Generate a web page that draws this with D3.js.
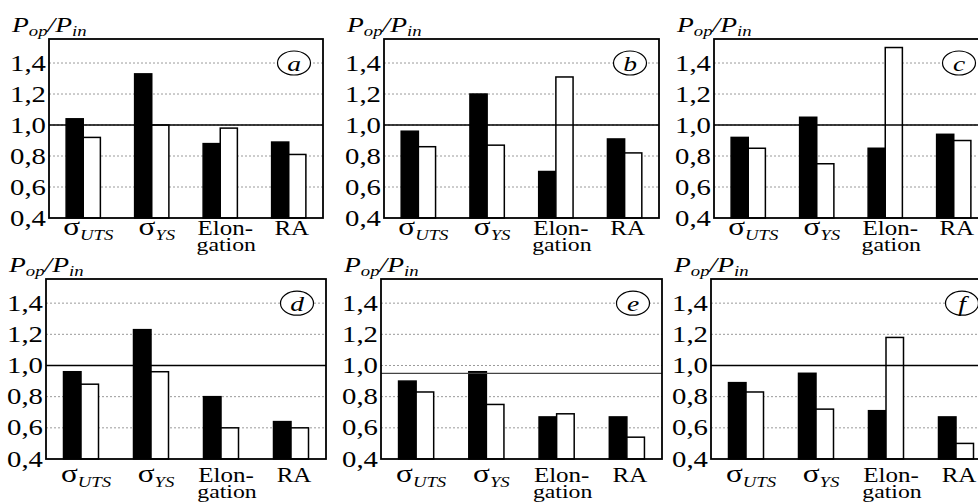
<!DOCTYPE html>
<html>
<head>
<meta charset="utf-8">
<script src="https://cdn.jsdelivr.net/npm/d3@7"></script>
<style>
  body { margin: 0; background: #fff; }
  text { font-family: "Liberation Serif", "Times New Roman", serif; fill: #000; }
</style>
</head>
<body>
<div id="chart"></div>
<script>
// panel letters, categories and the two bar series for each panel
const panelLetters = ["a", "b", "c", "d", "e", "f"];
const categories = ["σUTS", "σYS", "Elongation", "RA"];
const filledValues = [
  [1.04, 1.33, 0.88, 0.89],
  [0.96, 1.20, 0.70, 0.91],
  [0.92, 1.05, 0.85, 0.94],
  [0.96, 1.23, 0.80, 0.64],
  [0.90, 0.96, 0.67, 0.67],
  [0.89, 0.95, 0.71, 0.67]
];
const openValues = [
  [0.92, 1.00, 0.98, 0.81],
  [0.86, 0.87, 1.31, 0.82],
  [0.85, 0.75, 1.50, 0.90],
  [0.88, 0.96, 0.60, 0.60],
  [0.83, 0.75, 0.69, 0.54],
  [0.83, 0.72, 1.18, 0.50]
];
const refLines = [1.0, 1.0, 1.0, 1.0, 0.95, 1.0];
const yTicks = [0.4, 0.6, 0.8, 1.0, 1.2, 1.4];
const yDomain = [0.4, 1.555];

// frame boxes of the six panels (page pixels)
const frames = [
  { x0: 49,  x1: 323, y0: 39,  y1: 218, lab: 17 },
  { x0: 384, x1: 659, y0: 39,  y1: 218, lab: 17 },
  { x0: 714, x1: 988, y0: 39,  y1: 218, lab: 17 },
  { x0: 46,  x1: 326, y0: 279, y1: 459, lab: 23 },
  { x0: 381, x1: 662, y0: 279, y1: 459, lab: 23 },
  { x0: 711, x1: 991, y0: 279, y1: 459, lab: 23 }
];

const width = 978, height = 502;
const SX = 1.25; // the original figure is stretched sideways

const svg = d3.select("#chart")
  .append("svg")
  .attr("width", width)
  .attr("height", height);

const fmt = v => d3.format(".1f")(v).replace(".", ",");

// text in a horizontally stretched group
function stext(parent, x, y, anchor) {
  return parent.append("g")
    .attr("transform", `translate(${x},${y}) scale(${SX},1)`)
    .append("text")
    .attr("text-anchor", anchor);
}

panelLetters.forEach((letter, p) => {
  const f = frames[p];
  const g = svg.append("g");

  const y = d3.scaleLinear().domain(yDomain).range([f.y1, f.y0]);
  const x = d3.scaleBand()
    .domain(categories)
    .range([f.x0, f.x1])
    .paddingInner(0.5)
    .paddingOuter(0.25);
  const xs = d3.scaleBand()
    .domain(["filled", "open"])
    .range([0, x.bandwidth()]);

  // dotted grid
  g.selectAll(".grid")
    .data(yTicks.slice(1))
    .enter()
    .append("line")
    .attr("x1", f.x0)
    .attr("x2", f.x1)
    .attr("y1", d => y(d))
    .attr("y2", d => y(d))
    .attr("stroke", "#9a9a9a")
    .attr("stroke-width", 1)
    .attr("stroke-dasharray", "2,2");

  const rows = categories.map((c, i) => ({ c, filled: filledValues[p][i], open: openValues[p][i] }));

  // bars
  g.selectAll(".bf")
    .data(rows)
    .enter()
    .append("rect")
    .attr("x", d => x(d.c) + xs("filled"))
    .attr("y", d => y(d.filled))
    .attr("width", xs.bandwidth())
    .attr("height", d => y(yDomain[0]) - y(d.filled))
    .attr("fill", "#000")
    .attr("stroke", "#000")
    .attr("stroke-width", 1.5);

  g.selectAll(".bo")
    .data(rows)
    .enter()
    .append("rect")
    .attr("x", d => x(d.c) + xs("open"))
    .attr("y", d => y(d.open))
    .attr("width", xs.bandwidth())
    .attr("height", d => y(yDomain[0]) - y(d.open))
    .attr("fill", "#fff")
    .attr("stroke", "#000")
    .attr("stroke-width", 1.5);

  // reference line
  g.append("line")
    .attr("x1", f.x0)
    .attr("x2", f.x1)
    .attr("y1", y(refLines[p]))
    .attr("y2", y(refLines[p]))
    .attr("stroke", refLines[p] === 1 ? "#000" : "#444")
    .attr("stroke-width", 1.3);

  // frame
  g.append("rect")
    .attr("x", f.x0)
    .attr("y", f.y0)
    .attr("width", f.x1 - f.x0)
    .attr("height", f.y1 - f.y0)
    .attr("fill", "none")
    .attr("stroke", "#000")
    .attr("stroke-width", 1.8);

  // tick labels
  yTicks.forEach(t => {
    stext(g, f.x0 - 3, y(t), "end")
      .attr("dominant-baseline", "central")
      .style("font-size", "23px")
      .text(fmt(t));
  });

  // y label P_op/P_in
  const yl = stext(g, f.x0 - 37, f.y0 - 7, "start")
    .style("font-style", "italic")
    .style("font-size", "22px");
  yl.append("tspan").text("P");
  yl.append("tspan").attr("dy", 4).style("font-size", "15px").text("op");
  yl.append("tspan").attr("dy", -4).text("/P");
  yl.append("tspan").attr("dy", 4).style("font-size", "15px").text("in");

  // category labels
  const base = f.y1 + f.lab;
  categories.forEach(c => {
    const cx = x(c) + x.bandwidth() / 2;
    if (c.startsWith("σ")) {
      const t = stext(g, cx + 5, base, "middle");
      t.append("tspan").style("font-size", "25px").text("σ");
      t.append("tspan").attr("dy", 5).style("font-size", "15px")
        .style("font-style", "italic").text(c.slice(1));
    } else if (c === "Elongation") {
      stext(g, cx + 5, base, "middle").style("font-size", "20px").text("Elon-");
      stext(g, cx + 6, base + 16, "middle").style("font-size", "19px").text("gation");
    } else {
      stext(g, cx + 3, base, "middle").style("font-size", "20px").text(c);
    }
  });

  // panel letter in an ellipse
  const cx = f.x1 - 29, cy = y(1.4);
  g.append("ellipse")
    .attr("cx", cx)
    .attr("cy", cy)
    .attr("rx", 16.5)
    .attr("ry", 12)
    .attr("fill", "#fff")
    .attr("stroke", "#000")
    .attr("stroke-width", 1.2);
  stext(g, cx, cy, "middle")
    .attr("dominant-baseline", "central")
    .style("font-style", "italic")
    .style("font-size", "22px")
    .text(letter);
});
</script>
</body>
</html>
